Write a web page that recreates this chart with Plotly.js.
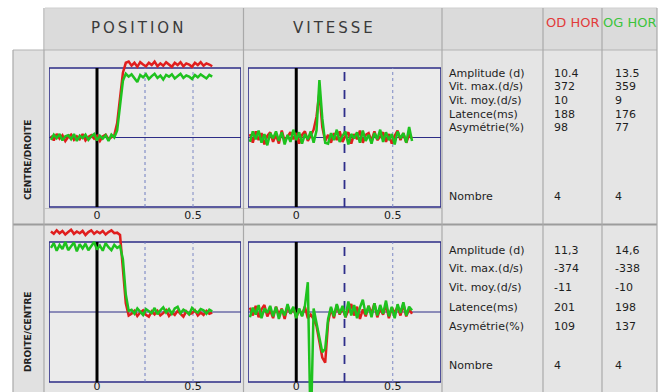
<!DOCTYPE html>
<html><head><meta charset="utf-8">
<script src="https://cdn.plot.ly/plotly-3.0.1.min.js"></script>
<style>html,body{margin:0;padding:0;background:#fff}#chart{width:665px;height:392px}</style>
</head><body><div id="chart"></div>
<script>
// ---------- DATA ----------
const time = [-0.24,-0.225,-0.21,-0.195,-0.18,-0.165,-0.15,-0.135,-0.12,-0.105,-0.09,-0.075,-0.06,-0.045,-0.03,-0.015,0,0.015,0.03,0.045,0.06,0.075,0.09,0.105,0.12,0.135,0.15,0.165,0.18,0.195,0.21,0.225,0.24,0.255,0.27,0.285,0.3,0.315,0.33,0.345,0.36,0.375,0.39,0.405,0.42,0.435,0.45,0.465,0.48,0.495,0.51,0.525,0.54,0.555,0.57,0.585,0.6];

// Row 1 : CENTRE/DROITE
const posCD_OD = [0.3,-0.5,0.6,-0.2,0.4,-0.6,0.1,0.5,-0.4,0.2,-0.3,0.6,-0.5,0.1,0.4,-0.2,0.3,-0.6,0.2,0.5,-0.3,0.1,0.4,
  2.5,7.0,11.2,12.9,
  13.1,12.4,12.9,12.2,13.0,12.6,12.3,12.9,12.5,13.1,12.3,12.8,12.4,13.0,12.6,12.2,12.9,12.5,13.0,12.3,12.8,12.6,12.2,12.9,12.5,13.0,12.4,12.8,12.6,12.3];
const posCD_OG = [-0.4,0.5,-0.1,0.6,-0.5,0.2,0.4,-0.3,0.6,-0.6,0.3,-0.1,0.5,-0.4,0.2,0.6,-0.5,0.3,-0.2,0.4,-0.6,0.5,0.0,
  1.2,5.5,9.8,11.0,
  10.5,10.9,10.2,9.6,10.8,10.4,10.9,10.1,10.6,11.0,10.3,10.7,10.0,10.8,10.5,10.9,10.2,10.6,11.0,10.3,10.7,10.5,10.1,10.8,10.4,10.9,10.6,10.2,10.8,10.5];
const vitCD_OD = [20,-30,35,-15,25,-40,10,30,-25,15,-35,40,-20,5,30,-10,25,-35,15,35,-20,10,45,
  120,260,60,-20,
  15,-30,25,-15,35,-25,10,30,-35,20,-10,40,-30,15,25,-20,35,-15,5,30,-25,20,-35,10,40,-15,25,-30,15,-5];
const vitCD_OG = [-25,35,-10,40,-30,20,-45,25,-5,35,-20,30,-40,15,-25,45,-15,30,-35,20,-10,35,-30,
  40,330,110,-30,
  -35,25,-15,45,-25,10,35,-40,20,-5,30,-30,40,-20,15,-35,25,-10,45,-25,30,-15,20,-40,35,-5,25,-30,60,-20];

// Row 2 : DROITE/CENTRE
const posDC_OD = [13.8,13.4,14.0,13.5,13.9,13.3,13.7,14.1,13.4,13.8,13.5,13.9,13.2,13.7,14.0,13.4,13.8,13.5,13.9,13.3,13.7,14.0,13.5,13.6,
  13.2,8.0,1.5,-0.6,
  -0.3,0.2,-0.7,-0.1,0.3,-0.5,-0.8,0.1,-0.4,0.2,-0.6,-0.2,0.3,-0.7,-0.1,-0.5,0.2,-0.3,-0.8,0.1,-0.4,-0.2,0.3,-0.6,-0.1,-0.5,0.2,-0.3,-0.1];
const posDC_OG = [11.0,11.8,10.5,11.5,10.8,12.0,10.6,11.3,11.9,10.4,11.6,10.9,11.7,10.6,11.2,12.0,10.7,11.4,10.5,11.8,11.1,10.6,11.5,11.0,
  11.3,9.0,3.0,0.2,
  0.4,-0.3,0.6,0.1,-0.5,0.5,0.2,-0.2,0.7,-0.4,0.3,0.8,-0.1,0.5,-0.3,0.6,0.9,-0.2,0.4,0.1,-0.4,0.7,0.2,-0.1,0.5,0.3,-0.3,0.4,0.1];
const vitDC_OD = [25,-20,35,-30,15,40,-25,10,-35,30,-15,20,-40,35,-10,25,-30,15,-20,30,-35,-15,-40,
  -80,-170,-260,-290,-60,
  20,-35,40,-15,25,-30,10,45,-20,30,-40,15,-25,35,-10,50,-30,20,-15,40,-35,25,-5,30,-20,45,-25,15,-10];
const vitDC_OG = [-30,25,-15,40,-35,20,-5,35,-25,30,-40,15,-20,45,-10,30,-35,20,-25,35,
  170,-700,20,-60,-150,-230,-210,-40,
  30,-25,45,-10,35,-30,60,-20,40,-35,25,70,-15,35,-30,50,-20,40,-10,65,-25,30,-35,45,-5,55,-20,30,10];

const colHeaders = ['POSITION','VITESSE'];
const rowLabels = ['CENTRE/DROITE','DROITE/CENTRE'];
const eyeHeaders = ['OD HOR','OG HOR'];
const statLabels = ['Amplitude (d)','Vit. max.(d/s)','Vit. moy.(d/s)','Latence(ms)','Asymétrie(%)','Nombre'];
const statOD_row1 = ['10.4','372','10','188','98','4'];
const statOG_row1 = ['13.5','359','9','176','77','4'];
const statOD_row2 = ['11,3','-374','-11','201','109','4'];
const statOG_row2 = ['14,6','-338','-10','198','137','4'];
const tickVals = [0, 0.5];
const tickText = ['0', '0.5'];

// ---------- LAYOUT GEOMETRY (pixels) ----------
const W = 665, H = 392;
const PX = x => x / W, PY = y => 1 - y / H;
const COLS = [{l:49, r:241}, {l:248, r:441}];
const ROWS = [{t:68, b:207, dt:52, db:222, stand:0}, {t:242, b:382, dt:228, db:392, stand:-4}];
const YMAX = [12, 400];            // half-height of the framed box, in data units (position, velocity)
const XR = [-0.25, 0.75];
const RED = '#e01e1e', GREEN = '#1ec21e', NAVY = '#2c2c86';

const series = [
  [[posCD_OD, posCD_OG], [vitCD_OD, vitCD_OG]],
  [[posDC_OD, posDC_OG], [vitDC_OD, vitDC_OG]]
];

const layout = {
  width: W, height: H, margin: {l:0, r:0, t:0, b:0},
  paper_bgcolor: '#ffffff', plot_bgcolor: 'rgba(0,0,0,0)',
  showlegend: false, shapes: [], annotations: []
};
const traces = [];

// Paper background cells and grid lines
const S = layout.shapes;
const prect = (x0,y0,x1,y1,fill) => S.push({type:'rect', xref:'paper', yref:'paper', x0:PX(x0), x1:PX(x1), y0:PY(y1), y1:PY(y0), fillcolor:fill, line:{width:0}, layer:'below'});
const pline = (x0,y0,x1,y1,color,w) => S.push({type:'line', xref:'paper', yref:'paper', x0:PX(x0), x1:PX(x1), y0:PY(y0), y1:PY(y1), line:{color:color, width:w}, layer:'below'});

prect(44, 50, 657, 392, '#e5e5e5');
prect(13, 50, 44, 392, '#e1e1e1');
prect(45, 8, 657, 50, '#dbdbdb');
pline(45, 8, 657, 8, '#cfcfcf', 1);
pline(13, 50, 657, 50, '#b4b4b4', 1.2);
pline(13, 224.5, 657, 224.5, '#9c9c9c', 2);
pline(45, 208.5, 442, 208.5, '#c4c4c4', 1);
[[13,50,392],[44,8,392],[243.5,8,392],[442,8,392],[543,8,392],[602,8,392],[657,8,392]].forEach(v => pline(v[0], v[1], v[0], v[2], '#a9a9a9', 1.2));

// Subplots
let k = 0;
for (let r = 0; r < 2; r++) {
  for (let c = 0; c < 2; c++) {
    k++;
    const xa = 'xaxis' + (k === 1 ? '' : k), ya = 'yaxis' + (k === 1 ? '' : k);
    const xr = 'x' + (k === 1 ? '' : k), yr = 'y' + (k === 1 ? '' : k);
    const R = ROWS[r], C = COLS[c], Y = YMAX[c];
    const center = (R.t + R.b) / 2, half = (R.b - R.t) / 2;
    const v = p => (center - p) / half * Y;
    layout[xa] = {domain:[PX(C.l), PX(C.r)], range:XR, anchor:'free', position:PY(R.b),
      showgrid:false, zeroline:false, showline:false, ticks:'', tickmode:'array',
      tickvals:tickVals, ticktext:tickText, fixedrange:true, ticklabelstandoff:R.stand,
      tickfont:{family:'DejaVu Sans, sans-serif', size:11, color:'#202020'}};
    layout[ya] = {domain:[PY(R.db), PY(R.dt)], range:[v(R.db), v(R.dt)], anchor:xr,
      visible:false, fixedrange:true};
    // frame
    S.push({type:'rect', xref:xr, yref:yr, x0:XR[0], x1:XR[1], y0:-Y, y1:Y,
      fillcolor:'#ebebeb', line:{color:NAVY, width:1.6}, layer:'below'});
    S.push({type:'line', xref:xr, yref:yr, x0:XR[0], x1:XR[1], y0:0, y1:0, line:{color:NAVY, width:1}, layer:'below'});
    S.push({type:'line', xref:xr, yref:yr, x0:0.5, x1:0.5, y0:-Y, y1:Y, line:{color:'#7d88c4', width:1, dash:'dot'}, layer:'below'});
    if (c === 0) {
      S.push({type:'line', xref:xr, yref:yr, x0:0.25, x1:0.25, y0:-Y, y1:Y, line:{color:'#6f7cc0', width:1, dash:'dot'}, layer:'below'});
    } else {
      S.push({type:'line', xref:xr, yref:yr, x0:0.25, x1:0.25, y0:-Y, y1:Y, line:{color:'#2e2e8a', width:1.8, dash:'dash'}, layer:'below'});
    }
    S.push({type:'line', xref:xr, yref:yr, x0:0, x1:0, y0:-Y, y1:Y, line:{color:'#000000', width:3}, layer:'below'});

    const [od, og] = series[r][c];
    traces.push({type:'scatter', mode:'lines', x:time, y:od, xaxis:xr, yaxis:yr,
      line:{color:RED, width:2.5}, hoverinfo:'skip'});
    traces.push({type:'scatter', mode:'lines', x:time, y:og, xaxis:xr, yaxis:yr,
      line:{color:GREEN, width:2.5}, hoverinfo:'skip'});
  }
}

// Text
const A = layout.annotations;
const ann = (x, y, text, o) => A.push(Object.assign({xref:'paper', yref:'paper', x:PX(x), y:PY(y), text:text,
  showarrow:false, xanchor:'center', yanchor:'middle'}, o));
const spaced = s => s.split('').join('\u2009');
ann(137, 28, spaced(colHeaders[0]), {font:{family:'DejaVu Sans, sans-serif', size:15, color:'#3a3a3a'}});
ann(333, 28, spaced(colHeaders[1]), {font:{family:'DejaVu Sans, sans-serif', size:15, color:'#3a3a3a'}});
ann(572.5, 23, eyeHeaders[0], {font:{family:'DejaVu Sans, sans-serif', size:13, color:'#e23a3a'}});
ann(629.5, 23, eyeHeaders[1], {font:{family:'DejaVu Sans, sans-serif', size:13, color:'#3cc43c'}});
ann(28, 160, rowLabels[0], {textangle:-90, font:{family:'DejaVu Sans, sans-serif', size:9, color:'#222', weight:'bold'}});
ann(28, 332, rowLabels[1], {textangle:-90, font:{family:'DejaVu Sans, sans-serif', size:9, color:'#222', weight:'bold'}});

const statY = [[73, 86.75, 100.5, 114.25, 128, 196], [250, 268, 287, 307, 326, 365]];
const statVals = [[statOD_row1, statOG_row1], [statOD_row2, statOG_row2]];
const sfont = {family:'DejaVu Sans, sans-serif', size:11, color:'#1e1e1e'};
for (let r = 0; r < 2; r++) {
  statLabels.forEach((lab, i) => {
    ann(447, statY[r][i], lab, {xanchor:'left', font:sfont});
    ann(552, statY[r][i], statVals[r][0][i], {xanchor:'left', font:sfont});
    ann(613, statY[r][i], statVals[r][1][i], {xanchor:'left', font:sfont});
  });
}

Plotly.newPlot('chart', traces, layout, {staticPlot:true, displayModeBar:false});
</script>
</body></html>
